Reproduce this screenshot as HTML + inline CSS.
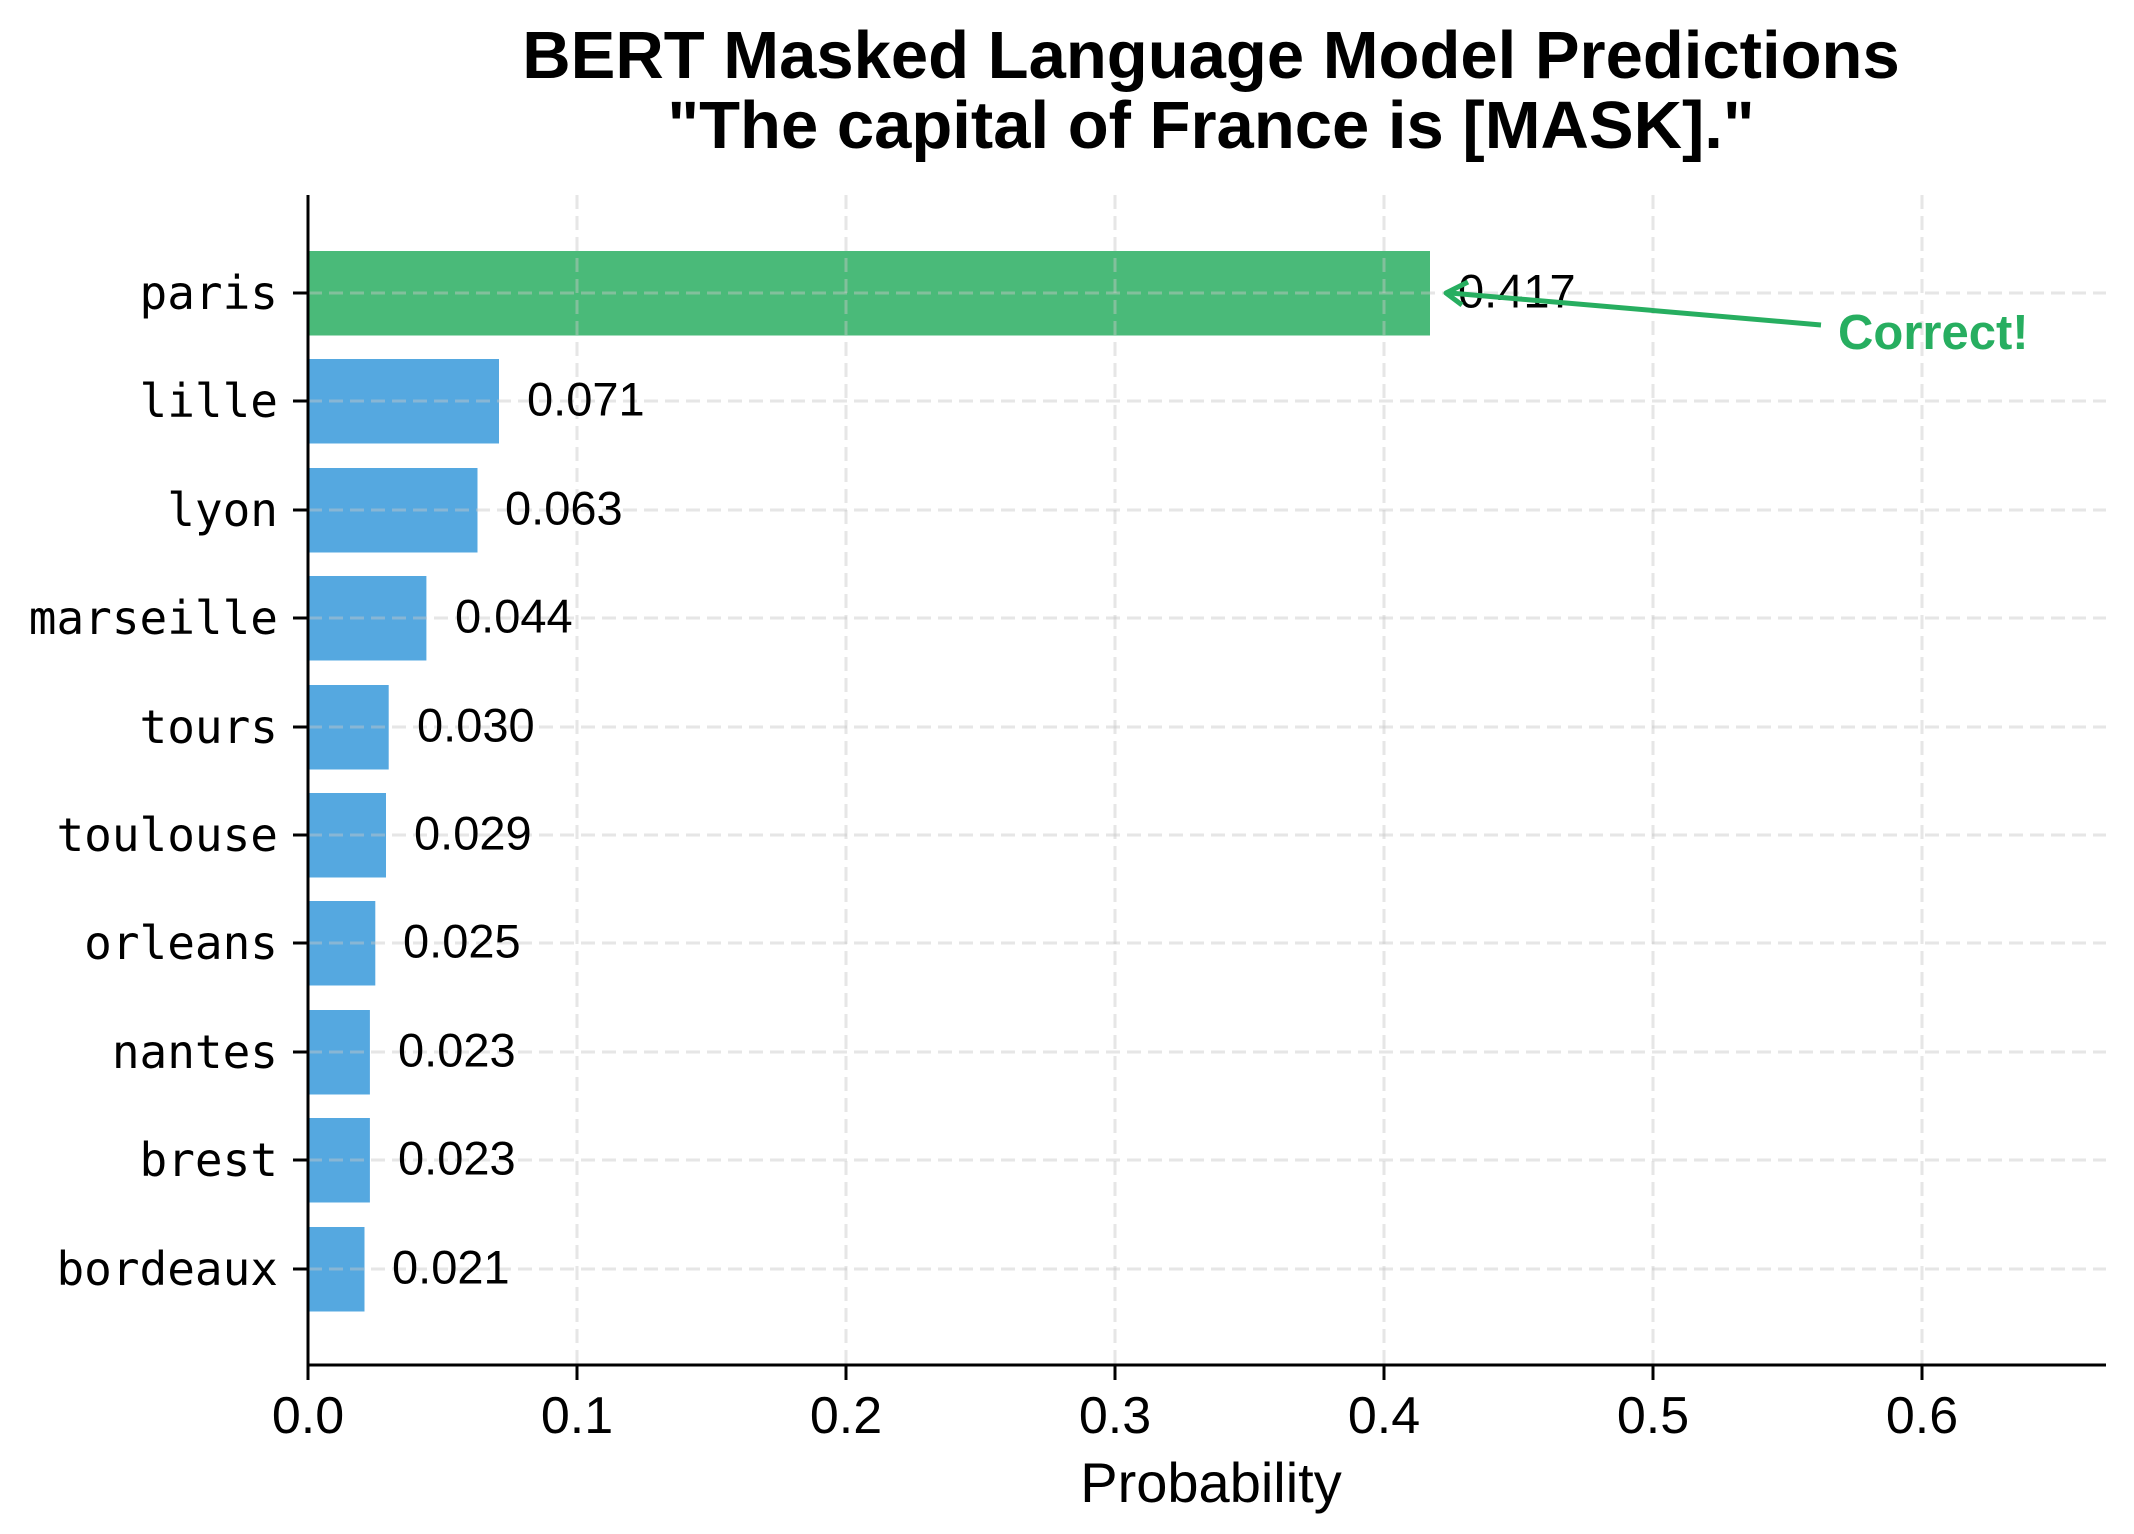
<!DOCTYPE html>
<html><head><meta charset="utf-8"><style>
html,body{margin:0;padding:0;background:#fff;}
svg{display:block;}
</style></head><body>
<svg width="2134" height="1534" viewBox="0 0 2134 1534" xmlns="http://www.w3.org/2000/svg">
<rect width="2134" height="1534" fill="#fff"/>
<g font-family="Liberation Sans, sans-serif" font-weight="bold" font-size="67" text-anchor="middle" fill="#000">
<text x="1211" y="78">BERT Masked Language Model Predictions</text>
<text x="1211" y="148">"The capital of France is [MASK]."</text>
</g>
<g>
<rect x="308" y="251" width="1122" height="84.5" fill="#4aba79"/>
<rect x="308" y="359" width="191" height="84.5" fill="#55a8e0"/>
<rect x="308" y="468" width="169.5" height="84.5" fill="#55a8e0"/>
<rect x="308" y="576" width="118.4" height="84.5" fill="#55a8e0"/>
<rect x="308" y="685" width="80.7" height="84.5" fill="#55a8e0"/>
<rect x="308" y="793" width="78" height="84.5" fill="#55a8e0"/>
<rect x="308" y="901" width="67.3" height="84.5" fill="#55a8e0"/>
<rect x="308" y="1010" width="61.9" height="84.5" fill="#55a8e0"/>
<rect x="308" y="1118" width="61.9" height="84.5" fill="#55a8e0"/>
<rect x="308" y="1227" width="56.5" height="84.5" fill="#55a8e0"/>
</g>
<g stroke="rgba(200,200,200,0.45)" stroke-width="3" stroke-dasharray="14,7">
<line x1="577" y1="195" x2="577" y2="1365"/>
<line x1="846" y1="195" x2="846" y2="1365"/>
<line x1="1115" y1="195" x2="1115" y2="1365"/>
<line x1="1384" y1="195" x2="1384" y2="1365"/>
<line x1="1653" y1="195" x2="1653" y2="1365"/>
<line x1="1922" y1="195" x2="1922" y2="1365"/>
<line x1="308" y1="293" x2="2106" y2="293"/>
<line x1="308" y1="401" x2="2106" y2="401"/>
<line x1="308" y1="510" x2="2106" y2="510"/>
<line x1="308" y1="618" x2="2106" y2="618"/>
<line x1="308" y1="727" x2="2106" y2="727"/>
<line x1="308" y1="835" x2="2106" y2="835"/>
<line x1="308" y1="943" x2="2106" y2="943"/>
<line x1="308" y1="1052" x2="2106" y2="1052"/>
<line x1="308" y1="1160" x2="2106" y2="1160"/>
<line x1="308" y1="1269" x2="2106" y2="1269"/>
</g>
<g stroke="#000" stroke-width="3">
<line x1="308" y1="195" x2="308" y2="1366.5"/>
<line x1="306.5" y1="1365" x2="2106" y2="1365"/>
<line x1="308" y1="1365" x2="308" y2="1380"/>
<line x1="577" y1="1365" x2="577" y2="1380"/>
<line x1="846" y1="1365" x2="846" y2="1380"/>
<line x1="1115" y1="1365" x2="1115" y2="1380"/>
<line x1="1384" y1="1365" x2="1384" y2="1380"/>
<line x1="1653" y1="1365" x2="1653" y2="1380"/>
<line x1="1922" y1="1365" x2="1922" y2="1380"/>
<line x1="293" y1="293" x2="308" y2="293"/>
<line x1="293" y1="401" x2="308" y2="401"/>
<line x1="293" y1="510" x2="308" y2="510"/>
<line x1="293" y1="618" x2="308" y2="618"/>
<line x1="293" y1="727" x2="308" y2="727"/>
<line x1="293" y1="835" x2="308" y2="835"/>
<line x1="293" y1="943" x2="308" y2="943"/>
<line x1="293" y1="1052" x2="308" y2="1052"/>
<line x1="293" y1="1160" x2="308" y2="1160"/>
<line x1="293" y1="1269" x2="308" y2="1269"/>
</g>
<g font-family="DejaVu Sans Mono, Liberation Mono, monospace" font-size="46" text-anchor="end" fill="#000" dominant-baseline="central">
<text x="278" y="293">paris</text>
<text x="278" y="401">lille</text>
<text x="278" y="510">lyon</text>
<text x="278" y="618">marseille</text>
<text x="278" y="727">tours</text>
<text x="278" y="835">toulouse</text>
<text x="278" y="943">orleans</text>
<text x="278" y="1052">nantes</text>
<text x="278" y="1160">brest</text>
<text x="278" y="1269">bordeaux</text>
</g>
<g font-family="Liberation Sans, sans-serif" font-size="47" fill="#000" dominant-baseline="central">
<text x="1458" y="291">0.417</text>
<text x="527" y="399">0.071</text>
<text x="505" y="508">0.063</text>
<text x="455" y="616">0.044</text>
<text x="417" y="725">0.030</text>
<text x="414" y="833">0.029</text>
<text x="403" y="941">0.025</text>
<text x="398" y="1050">0.023</text>
<text x="398" y="1158">0.023</text>
<text x="392" y="1267">0.021</text>
</g>
<g font-family="Liberation Sans, sans-serif" font-size="52" text-anchor="middle" fill="#000">
<text x="308" y="1433">0.0</text>
<text x="577" y="1433">0.1</text>
<text x="846" y="1433">0.2</text>
<text x="1115" y="1433">0.3</text>
<text x="1384" y="1433">0.4</text>
<text x="1653" y="1433">0.5</text>
<text x="1922" y="1433">0.6</text>
<text x="1211" y="1502" font-size="56">Probability</text>
</g>
<line x1="1821" y1="325" x2="1450" y2="293" stroke="#27ae60" stroke-width="5"/>
<polyline points="1468,282 1446,293 1462,305" fill="none" stroke="#27ae60" stroke-width="5" stroke-linejoin="round"/>
<text x="1838" y="349" font-family="Liberation Sans, sans-serif" font-weight="bold" font-size="49" fill="#27ae60">Correct!</text>
</svg>
</body></html>
